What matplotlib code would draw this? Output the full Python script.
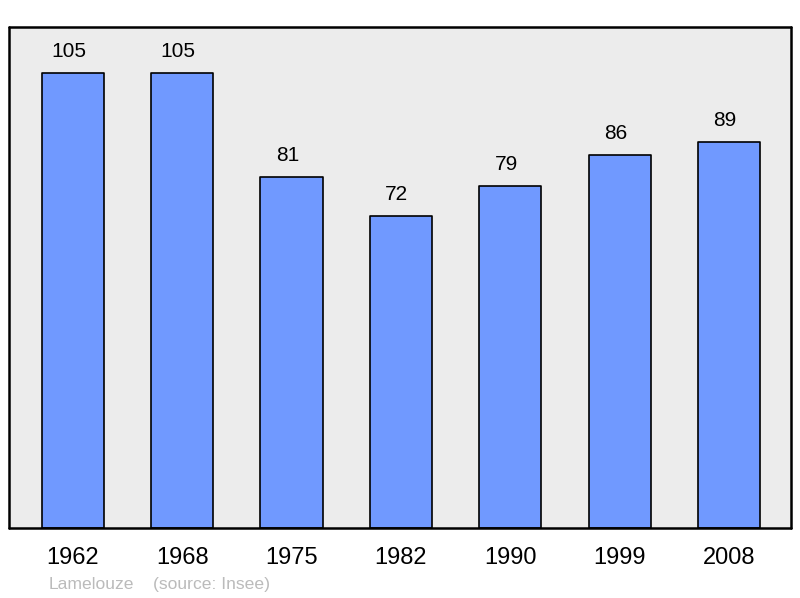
import matplotlib.pyplot as plt

plt.rcParams['font.family'] = ['Liberation Sans', 'DejaVu Sans']

years = ['1962', '1968', '1975', '1982', '1990', '1999', '2008']
population = [105, 105, 81, 72, 79, 86, 89]

fig = plt.figure(figsize=(8, 5.98), dpi=100)
ax = fig.add_axes([0.01125, 0.1171, 0.9775, 0.8378])
ax.set_facecolor('#ececec')

x = range(len(years))
bars = ax.bar(x, population, width=0.57, color='#7099ff', edgecolor='black',
              linewidth=1.2, zorder=2)
for b in bars:
    b.set_joinstyle('round')

# labels sit a little left of the bar centre in the original
for xi, v in zip(x, population):
    ax.annotate(str(v), (xi, v), xytext=(-3, 15.5), textcoords='offset points',
                ha='center', va='center', fontsize=15)

ax.set_xlim(-0.585, 6.567)
ax.set_ylim(0, 115.6)
ax.set_xticks(list(x))
ax.set_xticklabels(years, fontsize=17)
ax.tick_params(axis='x', length=0, pad=14)
ax.set_yticks([])
for s in ax.spines.values():
    s.set_linewidth(1.8)
    s.set_capstyle('round')

fig.text(49 / 800, 1 - 589 / 598, 'Lamelouze', color='#bbbbbb', fontsize=12.6, va='baseline')
fig.text(153 / 800, 1 - 589 / 598, '(source: Insee)', color='#bbbbbb', fontsize=12.6, va='baseline')

fig.savefig('out.png', dpi=100)
